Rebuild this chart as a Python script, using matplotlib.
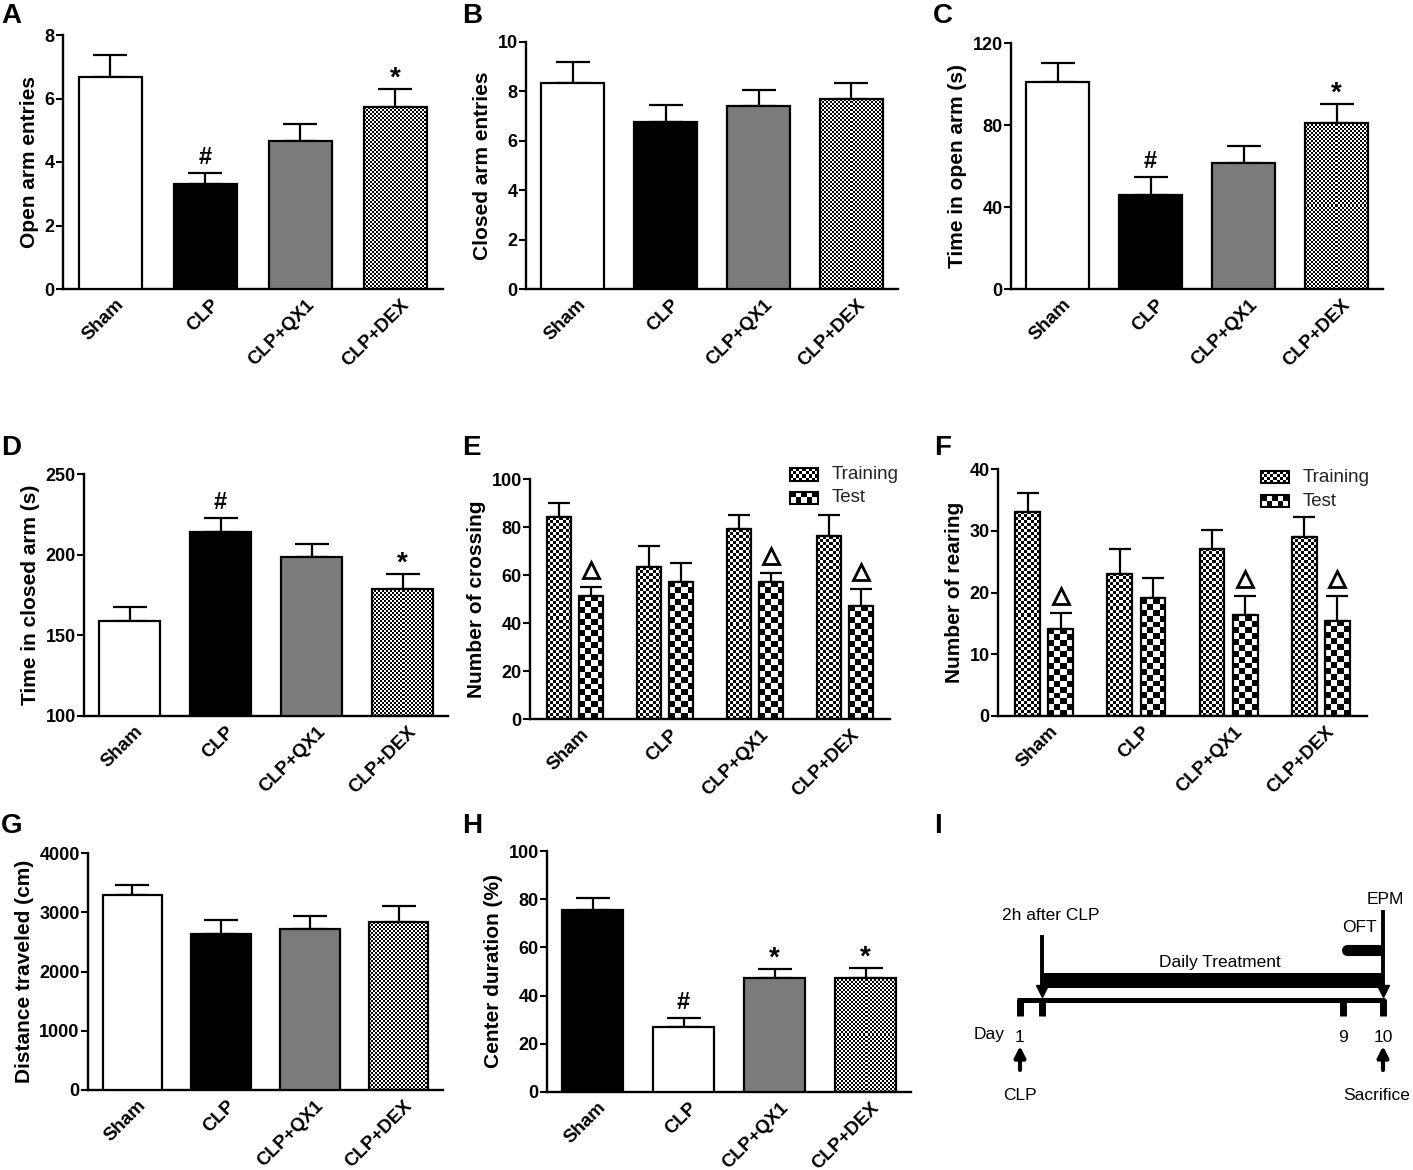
import numpy as np
import matplotlib
matplotlib.use('Agg')
import matplotlib.pyplot as plt
from matplotlib.patches import Rectangle
from matplotlib.transforms import ScaledTranslation

plt.rcParams['font.family'] = ['Liberation Sans', 'DejaVu Sans']
plt.rcParams['font.weight'] = 'bold'

# ---- data ----
groups = ['Sham', 'CLP', 'CLP+QX1', 'CLP+DEX']

open_arm_mean = [6.67, 3.30, 4.66, 5.72]
open_arm_sem = [0.70, 0.36, 0.53, 0.59]

closed_arm_mean = [8.32, 6.75, 7.41, 7.68]
closed_arm_sem = [0.87, 0.70, 0.66, 0.66]

time_open_mean = [101, 45.7, 61.5, 81]
time_open_sem = [9.2, 8.8, 8.1, 9.2]

time_closed_mean = [159, 214.2, 198.7, 179]
time_closed_sem = [8.8, 8.7, 8.1, 9.0]

crossing_train = [84.0, 63.3, 79.1, 76.1]
crossing_train_sem = [6.1, 8.6, 5.9, 8.9]
crossing_test = [51.3, 57.2, 57.2, 47.1]
crossing_test_sem = [3.8, 7.8, 3.5, 6.9]

rearing_train = [33.1, 23.0, 27.1, 29.0]
rearing_train_sem = [3.0, 4.0, 3.0, 3.2]
rearing_test = [14.1, 19.1, 16.3, 15.4]
rearing_test_sem = [2.6, 3.2, 3.2, 4.0]

distance_mean = [3296, 2625, 2716, 2834]
distance_sem = [170, 248, 213, 264]

center_mean = [75.4, 27.1, 47.4, 47.4]
center_sem = [5.3, 3.5, 3.8, 4.2]

W, H = 1413, 1170
fig = plt.figure(figsize=(W / 100, H / 100), dpi=100)


def px_axes(l, r, t, b):
    return fig.add_axes([l / W, 1 - b / H, (r - l) / W, (b - t) / H])


def checker(ax, patch, cell):
    # black/white checkerboard texture clipped to a patch
    bb = patch.get_window_extent().transformed(fig.transFigure.inverted())
    nx = max(1, int(round(bb.width * W / cell)))
    ny = max(1, int(round(bb.height * H / cell)))
    yy, xx = np.indices((ny, nx))
    tex = (xx + yy) % 2
    im = ax.imshow(tex, cmap='gray', vmin=0, vmax=1, interpolation='nearest',
                   aspect='auto', extent=(bb.x0, bb.x1, bb.y0, bb.y1),
                   transform=fig.transFigure, zorder=patch.get_zorder() - 0.5)
    im.set_clip_path(patch)
    im.set_clip_box(fig.bbox)


def style(ax, ylim, yticks, ylabel):
    ax.set_xlim(-0.5, 3.5)
    ax.set_ylim(*ylim)
    for s in ['top', 'right']:
        ax.spines[s].set_visible(False)
    for s in ['left', 'bottom']:
        ax.spines[s].set_linewidth(1.7)
    ax.set_yticks(yticks)
    ax.tick_params(axis='y', length=5, width=1.5, labelsize=13, pad=1)
    ax.tick_params(axis='x', length=0, labelsize=13.5, pad=5)
    ax.set_xticks(range(4))
    ax.set_xticklabels(groups, rotation=45, ha='right', va='top',
                       rotation_mode='anchor')
    for lbl in ax.get_xticklabels():
        lbl.set_transform(lbl.get_transform() +
                          ScaledTranslation(5 / 100, 0, fig.dpi_scale_trans))
    ax.set_ylabel(ylabel, fontsize=15, fontweight='bold', labelpad=4)


def mark(ax, x, top, s, dy=3, size=17):
    if s == '*':
        size, dy = 20, -2
    ax.annotate(s, (x, top), xytext=(0, dy), textcoords='offset points',
                ha='center', va='bottom', fontsize=size, fontweight='bold')


def tri(ax, x, top):
    ax.plot([x], [top], marker='^', ms=11, mfc='white', mec='k', mew=2,
            clip_on=False, zorder=5,
            transform=ax.transData + ScaledTranslation(0, 17 / 100, fig.dpi_scale_trans))


fills = ['white', 'black', '#7a7c7c', 'check']


def single_panel(ax, means, sems, ylim, yticks, ylabel, colors=fills):
    style(ax, ylim, yticks, ylabel)
    x = np.arange(4)
    base = ylim[0]
    ax.errorbar(x, means, yerr=[np.zeros(4), sems], fmt='none', ecolor='k',
                elinewidth=1.6, capsize=12, capthick=1.6, zorder=1)
    for xi, m, c in zip(x, means, colors):
        fc = 'none' if c == 'check' else c
        b = ax.bar(xi, m - base, bottom=base, width=0.67, color=fc,
                   edgecolor='k', linewidth=1.6, zorder=3)[0]
        if c == 'check':
            checker(ax, b, 2)


def group_panel(ax, train, train_sem, test, test_sem, ylim, yticks, ylabel):
    style(ax, ylim, yticks, ylabel)
    x = np.arange(4)
    for off, vals, sems, cell in [(-0.18, train, train_sem, 3),
                                  (0.18, test, test_sem, 6)]:
        ax.errorbar(x + off, vals, yerr=[np.zeros(4), sems], fmt='none',
                    ecolor='k', elinewidth=1.6, capsize=8, capthick=1.6, zorder=1)
        bars = ax.bar(x + off, vals, width=0.27, color='none', edgecolor='k',
                      linewidth=1.6, zorder=3)
        for b in bars:
            checker(ax, b, cell)


def legend_box(ax, x0, y0, labels_y):
    for (yt, yb), lab, cell in zip(labels_y, ['Training', 'Test'], [3, 6]):
        r = Rectangle((x0 / W, 1 - yb / H), 28 / W, (yb - yt) / H,
                      transform=fig.transFigure, fc='none', ec='k', lw=1.5,
                      zorder=6)
        fig.add_artist(r)
        checker(ax, r, cell)
        fig.text((x0 + 42) / W, 1 - (yt + yb) / 2 / H, lab, va='center',
                 ha='left', fontsize=13.5, fontweight='normal', color='#222222')


# A
axA = px_axes(63, 443, 35, 289)
single_panel(axA, open_arm_mean, open_arm_sem, (0, 8), [0, 2, 4, 6, 8], 'Open arm entries')
mark(axA, 1, open_arm_mean[1] + open_arm_sem[1], '#')
mark(axA, 3, open_arm_mean[3] + open_arm_sem[3], '*')

# B
axB = px_axes(526, 898, 42, 289)
single_panel(axB, closed_arm_mean, closed_arm_sem, (0, 10), [0, 2, 4, 6, 8, 10], 'Closed arm entries')

# C
axC = px_axes(1011, 1383, 43, 289)
single_panel(axC, time_open_mean, time_open_sem, (0, 120), [0, 40, 80, 120], 'Time in open arm (s)')
mark(axC, 1, time_open_mean[1] + time_open_sem[1], '#')
mark(axC, 3, time_open_mean[3] + time_open_sem[3], '*')

# D
axD = px_axes(84, 448, 474, 716)
single_panel(axD, time_closed_mean, time_closed_sem, (100, 250), [100, 150, 200, 250],
             'Time in closed arm (s)')
mark(axD, 1, time_closed_mean[1] + time_closed_sem[1], '#')
mark(axD, 3, time_closed_mean[3] + time_closed_sem[3], '*')

# E
axE = px_axes(530, 890, 479, 719)
group_panel(axE, crossing_train, crossing_train_sem, crossing_test, crossing_test_sem,
            (0, 100), [0, 20, 40, 60, 80, 100], 'Number of crossing')
for i in [0, 2, 3]:
    tri(axE, i + 0.18, crossing_test[i] + crossing_test_sem[i])
legend_box(axE, 790, 468, [(468, 481), (492, 504)])

# F
axF = px_axes(998, 1367, 469, 716)
group_panel(axF, rearing_train, rearing_train_sem, rearing_test, rearing_test_sem,
            (0, 40), [0, 10, 20, 30, 40], 'Number of rearing')
for i in [0, 2, 3]:
    tri(axF, i + 0.18, rearing_test[i] + rearing_test_sem[i])
legend_box(axF, 1261, 471, [(471, 483), (495, 507)])

# G
axG = px_axes(88, 443, 853, 1090)
single_panel(axG, distance_mean, distance_sem, (0, 4000), [0, 1000, 2000, 3000, 4000],
             'Distance traveled (cm)')

# H
axH = px_axes(547, 911, 851, 1092)
single_panel(axH, center_mean, center_sem, (0, 100), [0, 20, 40, 60, 80, 100],
             'Center duration (%)', colors=['black', 'white', '#7a7c7c', 'check'])
mark(axH, 1, center_mean[1] + center_sem[1], '#')
mark(axH, 2, center_mean[2] + center_sem[2], '*')
mark(axH, 3, center_mean[3] + center_sem[3], '*')

# I  - experimental timeline (schematic)
axI = px_axes(960, 1413, 860, 1110)
axI.axis('off')
ppd = 363 / 9  # pixels per day
axI.set_xlim(1 - 60 / ppd, 10 + 30 / ppd)
axI.set_ylim(1110, 860)
ifont = dict(family=['Liberation Sans Narrow', 'Liberation Sans', 'DejaVu Sans'],
             fontsize=12.5, fontweight='normal')
treat_day = 1.55
oft_day = 9.1
axI.plot([0.93, 10.05], [1000, 1000], color='k', lw=3.6, solid_capstyle='butt')
for d in [1, treat_day, 9, 10]:
    axI.plot([d, d], [999, 1016], color='k', lw=5, solid_capstyle='butt')
axI.add_patch(Rectangle((treat_day + 0.05, 973), 10 - treat_day - 0.05, 15, color='k', lw=0))
axI.plot([treat_day, treat_day], [937, 989], color='k', lw=2.8)
axI.plot([10, 10], [912, 989], color='k', lw=2.8)
axI.plot([treat_day, 10], [991, 991], ls='none', marker='v', ms=8, color='k')
axI.plot([oft_day, 9.9], [949.5, 949.5], color='k', lw=8, solid_capstyle='round')
for d in [1, 10]:
    axI.annotate('', xy=(d, 1046), xytext=(d, 1070),
                 arrowprops=dict(arrowstyle='-|>', color='k', lw=3,
                                 mutation_scale=16, shrinkA=0, shrinkB=0))
axI.text(treat_day + 0.2, 915, '2h after CLP', ha='center', va='center', **ifont)
axI.text(5.95, 962, 'Daily Treatment', ha='center', va='center', **ifont)
axI.text(9.85, 928, 'OFT', ha='right', va='center', **ifont)
axI.text(10.05, 900, 'EPM', ha='center', va='center', **ifont)
axI.text(1 - 31 / ppd, 1035, 'Day', ha='center', va='center', **ifont)
for d, s in [(1, '1'), (9, '9'), (10, '10')]:
    axI.text(d, 1037, s, ha='center', va='center', **ifont)
axI.text(1, 1095, 'CLP', ha='center', va='center', **ifont)
axI.text(10 + 27 / ppd, 1095, 'Sacrifice', ha='right', va='center', **ifont)

# panel letters
for s, x, y in [('A', 1, 23), ('B', 462, 23), ('C', 933, 23),
                ('D', 1, 455), ('E', 462, 455), ('F', 934, 455),
                ('G', 1, 833), ('H', 462, 833), ('I', 934, 833)]:
    fig.text(x / W, 1 - y / H, s, fontsize=20, fontweight='bold', va='baseline', ha='left')

fig.savefig('out.png', dpi=100)
